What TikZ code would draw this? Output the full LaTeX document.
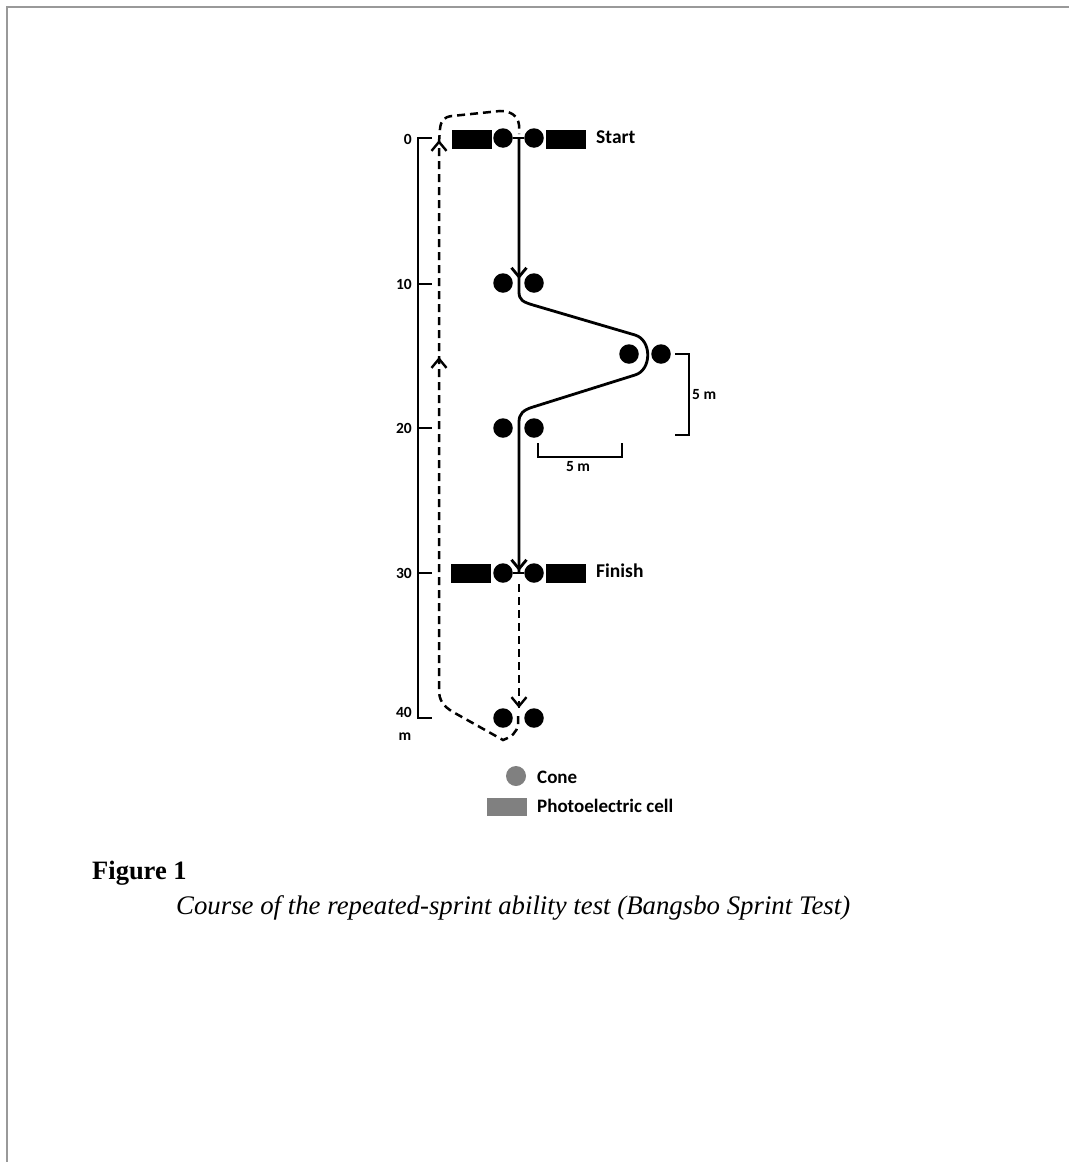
\documentclass[tikz,border=0pt]{standalone}
\usepackage{fontspec}
\setmainfont{Liberation Serif}
\newfontfamily\calfont{Carlito}
\usetikzlibrary{arrows.meta}
\begin{document}
\begin{tikzpicture}[x=1pt,y=-1pt,
  cone/.style={circle,fill=black,minimum size=19.5pt,inner sep=0pt},
  cell/.style={rectangle,fill=black,minimum width=40pt,minimum height=19pt,inner sep=0pt},
  lbl/.style={font=\calfont\bfseries\fontsize{19.5}{19.5}\selectfont,inner sep=0pt,anchor=west},
  leg/.style={font=\calfont\bfseries\fontsize{19}{19}\selectfont,inner sep=0pt,anchor=west},
  num/.style={font=\calfont\bfseries\fontsize{15.5}{15.5}\selectfont,inner sep=0pt},
  run/.style={line width=2.8pt},
  back/.style={line width=2.5pt,dash pattern=on 8pt off 5pt},
  tip/.style={-{Straight Barb[length=9pt,width=15pt]}},
  brk/.style={line width=2.2pt},
  frame/.style={draw=black!40,line width=2pt}]
\useasboundingbox (0,0) rectangle (1069,1162);
\fill[white] (0,0) rectangle (1069,1162);
\draw[frame] (7,1162) -- (7,6.5) -- (1069,6.5);

% scale axis
\draw[line width=2.6pt] (432,138) -- (418,138) -- (418,718) -- (432,718);
\foreach \yy in {284,428,573} \draw[line width=2.6pt] (418,\yy) -- (432,\yy);
\node[num,anchor=east] (n0) at (412,139) {0};
\node[num,anchor=east] (n10) at (412,284) {10};
\node[num,anchor=east] (n20) at (412,428) {20};
\node[num,anchor=east] (n30) at (412,573) {30};
\node[num,anchor=east] (n40) at (412,712) {40};
\node[num] (nm) at (405,737) {m};

% start row
\node[cell] (s0l) at (472,139) {};
\node[cone] (c0a) at (503,138) {};
\node[cone] (c0b) at (534,138) {};
\node[cell] (s0r) at (566,139) {};
\node[lbl] (tstart) at (596,137) {Start};
% 10 m
\node[cone] (c10a) at (503,283) {};
\node[cone] (c10b) at (534,283) {};
% 15 m
\node[cone] (c15a) at (629,354) {};
\node[cone] (c15b) at (661,354) {};
% 20 m
\node[cone] (c20a) at (503,428) {};
\node[cone] (c20b) at (534,428) {};
% finish row
\node[cell] (s30l) at (471,573) {};
\node[cone] (c30a) at (503,573) {};
\node[cone] (c30b) at (534,573) {};
\node[cell] (s30r) at (566,573) {};
\node[lbl] (tfinish) at (596,571) {Finish};
% 40 m
\node[cone] (c40a) at (503,718) {};
\node[cone] (c40b) at (534,718) {};

% gate lines between cones
\draw[brk] (c0a.east) -- (c0b.west);
\draw[brk] (c30a.east) -- (c30b.west);

% sprint path
\coordinate (p0) at (519,138);
\coordinate (p30) at (519,573);
\draw[run,line join=round] (p0) -- (519,292) .. controls (519,300) and (523,302) .. (533,305)
  -- (635,335) .. controls (652,340) and (652,370) .. (635,375)
  -- (533,407) .. controls (523,410) and (519,414) .. (519,422) -- (p30);
\draw[run,tip] (519,262) -- (519,279);
\draw[run,tip] (519,555) -- (519,571);

% jog-back path
\coordinate (q0) at (519,584);
\coordinate (q1) at (519,708);
\draw[back] (q0) -- (q1);
\draw[line width=2.4pt,tip] (519,706) -- (519,708);
\draw[back] (518,716) -- (518,724) .. controls (517,733) and (511,737) .. (503,740)
  -- (453,712) .. controls (443,706) and (439,700) .. (439,690) -- (439,142)
  -- (440,129) .. controls (441,120) and (444,117) .. (452,116)
  -- (500,111) .. controls (511,111) and (518,116) .. (519,125) -- (519,134);
\draw[line width=2.4pt,tip] (439,142) -- (439,140);
\draw[line width=2.4pt,tip] (439,360) -- (439,357);

% dimension brackets
\draw[brk] (675,354) -- (689,354) -- (689,435) -- (675,435);
\node[num,anchor=west] (d1) at (692,395) {5 m};
\draw[brk] (538,443) -- (538,457) -- (622,457) -- (622,443);
\node[num] (d2) at (578,467) {5 m};

% legend
\node[circle,fill=black!50,minimum size=20pt,inner sep=0pt] (lc) at (516,776) {};
\node[leg] (lct) at (537,777) {Cone};
\node[rectangle,fill=black!50,minimum width=40pt,minimum height=18pt,inner sep=0pt] (lr) at (507,807) {};
\node[leg] (lrt) at (537,806) {Photoelectric cell};

% caption
\node[anchor=base west,inner sep=0pt,font=\bfseries\fontsize{26.5}{26.5}\selectfont] (fig) at (92,879) {Figure 1};
\node[anchor=base west,inner sep=0pt,font=\itshape\fontsize{26.8}{26.8}\selectfont] (cap) at (176,914) {Course of the repeated-sprint ability test (Bangsbo Sprint Test)};
\end{tikzpicture}
\end{document}
